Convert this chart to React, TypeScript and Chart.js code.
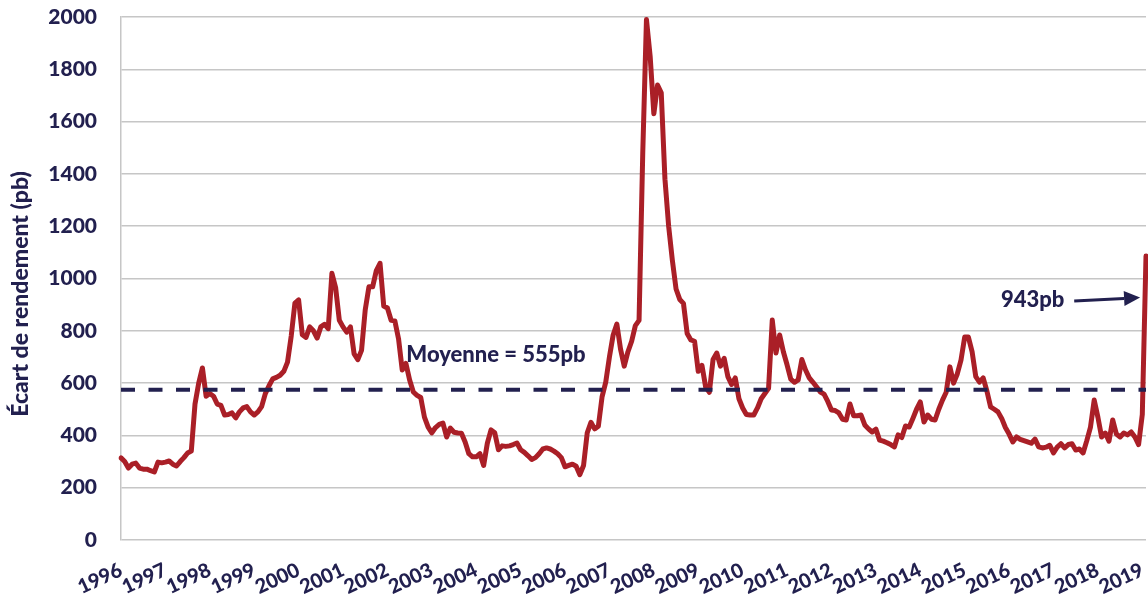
import React, { useEffect, useRef } from "react";
import { Chart, registerables } from "chart.js";

Chart.register(...registerables);

const years = [
  "1996", "1997", "1998", "1999", "2000", "2001", "2002", "2003", "2004", "2005", "2006", "2007",
  "2008", "2009", "2010", "2011", "2012", "2013", "2014", "2015", "2016", "2017", "2018", "2019",
];

// monthly yield spread (pb)
const spreads = [
  314, 300, 275, 290, 294, 275, 271, 271, 265, 260, 298, 295,
  298, 302, 290, 283, 300, 315, 333, 340, 520, 600, 658, 550,
  560, 550, 520, 515, 478, 480, 486, 467, 490, 505, 510, 490,
  478, 490, 510, 560, 590, 616, 622, 630, 645, 680, 780, 906,
  918, 785, 775, 815, 800, 772, 815, 825, 808, 1020, 965, 840,
  815, 795, 815, 712, 690, 725, 880, 968, 968, 1030, 1058, 895,
  887, 840, 838, 770, 650, 675, 612, 566, 553, 545, 470, 432,
  410, 430, 442, 447, 394, 428, 412, 409, 408, 375, 330, 318,
  318, 330, 285, 370, 421, 410, 345, 360, 358, 360, 365, 371,
  345, 335, 322, 308, 315, 330, 348, 352, 348, 340, 330, 315,
  280, 285, 290, 282, 250, 285, 410, 450, 425, 435, 547, 604,
  700, 784, 826, 730, 665, 720, 760, 820, 840, 1480, 1990, 1850,
  1630, 1740, 1710, 1380, 1200, 1070, 960, 920, 905, 790, 765, 760,
  645, 668, 585, 565, 690, 715, 665, 695, 625, 595, 620, 540,
  505, 480, 478, 478, 505, 540, 560, 580, 841, 715, 784, 720,
  670, 615, 603, 612, 690, 650, 620, 603, 585, 566, 558, 530,
  497, 495, 486, 462, 459, 520, 475, 475, 478, 440, 425, 413,
  424, 382, 378, 372, 365, 356, 402, 392, 436, 432, 465, 500,
  528, 451, 478, 462, 459, 500, 535, 565, 662, 600, 635, 688,
  776, 776, 720, 625, 604, 620, 570, 509, 500, 490, 465, 430,
  405, 375, 394, 385, 380, 375, 370, 386, 356, 352, 355, 362,
  333, 355, 368, 352, 365, 368, 344, 348, 333, 380, 432, 535,
  470, 394, 409, 378, 459, 405, 394, 409, 402, 413, 394, 365,
  480, 1086,
];

const meanLevel = 575;
const meanLabel = "Moyenne = 555pb";
const lastLabel = "943pb";
const yTitle = "Écart de rendement (pb)";
const yTicks = [0, 200, 400, 600, 800, 1000, 1200, 1400, 1600, 1800, 2000];

const NAVY = "#22204f";
const RED = "#aa1f27";
const GRID = "#c6c6c6";
const FONT = "Lato";
const WEIGHT = "900";

export default function App() {
  const ref = useRef<HTMLCanvasElement | null>(null);

  useEffect(() => {
    if (!ref.current) return;
    const labels = spreads.map((_, i) => (i % 12 === 0 ? years[i / 12] : ""));
    const meanData = spreads.map(() => meanLevel);

    const annotations = {
      id: "annotations",
      afterDraw(chart: any) {
        const { ctx } = chart;
        const xs = chart.scales.x;
        const ys = chart.scales.y;
        ctx.save();
        ctx.fillStyle = NAVY;
        ctx.strokeStyle = NAVY;
        // y title
        ctx.save();
        ctx.translate(21, 294);
        ctx.rotate(-Math.PI / 2);
        ctx.font = `${WEIGHT} 23px ${FONT}`;
        ctx.textAlign = "center";
        ctx.textBaseline = "middle";
        ctx.fillText(yTitle, 0, 0);
        ctx.restore();

        // mean label
        ctx.font = `${WEIGHT} 22px ${FONT}`;
        ctx.textAlign = "left";
        ctx.textBaseline = "alphabetic";
        ctx.fillText(meanLabel, xs.getPixelForValue(77.1), ys.getPixelForValue(681));

        // last value label + arrow
        ctx.fillText(lastLabel, xs.getPixelForValue(237.8), ys.getPixelForValue(891));
        const x0 = xs.getPixelForValue(257.6);
        const y0 = ys.getPixelForValue(914);
        const x1 = xs.getPixelForValue(275.4);
        const y1 = ys.getPixelForValue(927);
        const ang = Math.atan2(y1 - y0, x1 - x0);
        const headLen = 16;
        const headHalf = 7.5;
        ctx.lineWidth = 3;
        ctx.beginPath();
        ctx.moveTo(x0, y0);
        ctx.lineTo(x1 - headLen * Math.cos(ang), y1 - headLen * Math.sin(ang));
        ctx.stroke();
        ctx.beginPath();
        ctx.moveTo(x1, y1);
        ctx.lineTo(
          x1 - headLen * Math.cos(ang) + headHalf * Math.sin(ang),
          y1 - headLen * Math.sin(ang) - headHalf * Math.cos(ang)
        );
        ctx.lineTo(
          x1 - headLen * Math.cos(ang) - headHalf * Math.sin(ang),
          y1 - headLen * Math.sin(ang) + headHalf * Math.cos(ang)
        );
        ctx.closePath();
        ctx.fill();
        ctx.restore();
      },
    };

    const chart = new Chart(ref.current, {
      type: "line",
      data: {
        labels,
        datasets: [
          {
            label: "Moyenne",
            data: meanData,
            borderColor: NAVY,
            borderWidth: 4,
            borderDash: [14, 13.5],
            pointRadius: 0,
            fill: false,
            order: 0,
          },
          {
            label: "Écart",
            data: spreads,
            borderColor: RED,
            borderWidth: 5,
            pointRadius: 0,
            tension: 0,
            fill: false,
            borderJoinStyle: "round",
            borderCapStyle: "round",
            order: 1,
          },
        ],
      },
      options: {
        animation: false,
        responsive: false,
        layout: { padding: { top: 17, right: 2, left: 0, bottom: 0 } },
        plugins: {
          legend: { display: false },
          tooltip: { enabled: false },
        },
        scales: {
          x: {
            type: "category",
            offset: false,
            grid: { display: false, drawTicks: false },
            border: { display: false },
            ticks: {
              autoSkip: false,
              minRotation: 25,
              maxRotation: 25,
              padding: 18,
              color: NAVY,
              font: { family: FONT, size: 20, weight: WEIGHT },
              callback: function (this: any, v: any) {
                return this.getLabelForValue(v);
              },
            },
            afterFit: (s: any) => {
              s.height = 56;
              s.paddingLeft = 0;
              s.paddingRight = 0;
            },
          },
          y: {
            min: 0,
            max: 2000,
            afterBuildTicks: (s: any) => {
              s.ticks = yTicks.map((v) => ({ value: v }));
            },
            grid: { color: GRID, lineWidth: 1.5, drawTicks: false },
            border: { display: true, color: GRID, width: 1.5 },
            ticks: {
              padding: 24,
              color: NAVY,
              font: { family: FONT, size: 21, weight: WEIGHT },
              callback: (v: any) => String(v),
            },
            afterFit: (s: any) => {
              s.width = 121;
              s.paddingTop = 0;
              s.paddingBottom = 0;
            },
          },
        },
      },
      plugins: [annotations],
    });
    return () => chart.destroy();
  }, []);

  return (
    <div style={{ position: "fixed", left: 0, top: 0, width: 1148, height: 596, background: "#fff" }}>
      <canvas ref={ref} width={1148} height={596} style={{ display: "block" }} />
    </div>
  );
}
